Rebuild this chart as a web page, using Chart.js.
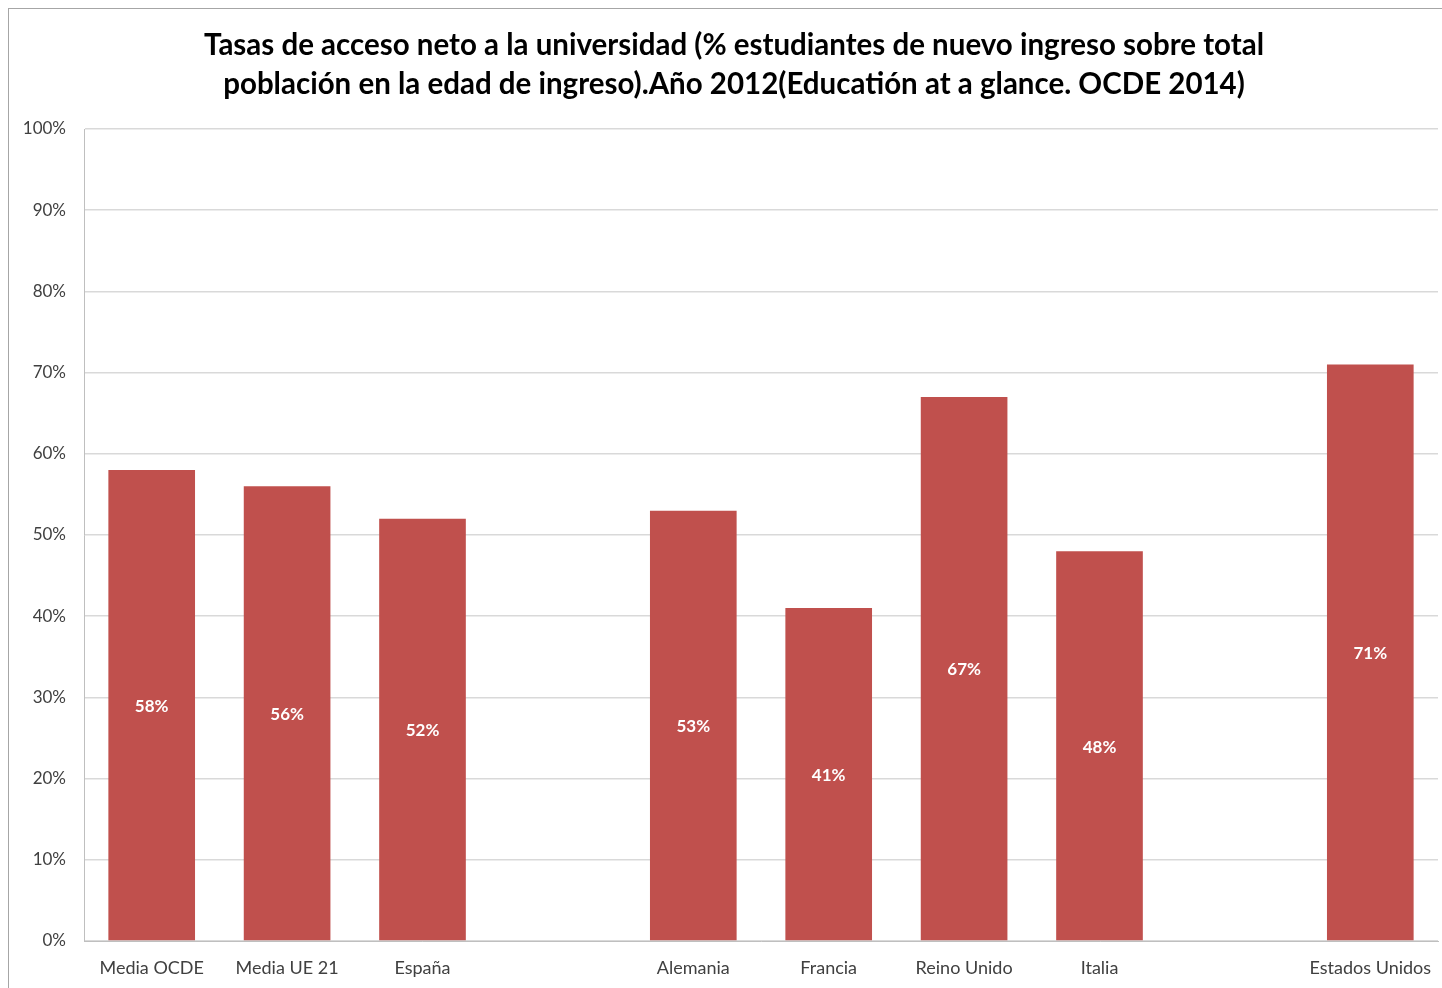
<!DOCTYPE html>
<html><head><meta charset="utf-8">
<script src="https://cdn.jsdelivr.net/npm/chart.js@4.4.1/dist/chart.umd.min.js"></script>
<style>
html,body{margin:0;padding:0;background:#fff;overflow:hidden}
#wrap{position:absolute;left:0;top:0;width:1442px;height:988px}
#frame{position:absolute;left:8px;top:8px;width:1460px;height:1000px;border:1px solid #a6a6a6;pointer-events:none}
</style></head>
<body>
<div id="wrap"><canvas id="c" width="1442" height="988"></canvas><div id="frame"></div></div>
<script>
const categories = ['Media OCDE','Media UE 21','España','','Alemania','Francia','Reino Unido','Italia','','Estados Unidos'];
const values = [58,56,52,null,53,41,67,48,null,71];
const yTicks = [0,10,20,30,40,50,60,70,80,90,100];
const titleLines = ['Tasas de acceso neto a la universidad (% estudiantes de nuevo ingreso sobre total','población en la edad de ingreso).Año 2012(Educatión at a glance. OCDE 2014)'];

const FONT = 'Lato, "Open Sans", sans-serif';

const titlePlugin = {
  id:'titleP',
  afterDraw(chart){
    const ctx = chart.ctx;
    ctx.save();
    ctx.fillStyle = '#000';
    ctx.font = 'bold 29.5px ' + FONT;
    ctx.textAlign = 'center';
    ctx.textBaseline = 'middle';
    ctx.fillText(titleLines[0], 734, 45);
    ctx.fillText(titleLines[1], 734, 84);
    ctx.restore();
  }
};
const labelPlugin = {
  id:'labelsP',
  afterDatasetsDraw(chart){
    const ctx = chart.ctx;
    const meta = chart.getDatasetMeta(0);
    const ys = chart.scales.y;
    ctx.save();
    ctx.fillStyle = '#fff';
    ctx.font = 'bold 17px ' + FONT;
    ctx.textAlign = 'center';
    ctx.textBaseline = 'middle';
    meta.data.forEach((bar,i)=>{
      const v = values[i];
      if (v === null) return;
      const yMid = (ys.getPixelForValue(v) + ys.getPixelForValue(0))/2;
      ctx.fillText(v + '%', bar.x, yMid + 1);
    });
    ctx.restore();
  }
};

new Chart(document.getElementById('c'), {
  type:'bar',
  data:{ labels:categories, datasets:[{ data:values, backgroundColor:'#C0504D', borderWidth:0, categoryPercentage:1, barPercentage:0.64 }]},
  options:{
    responsive:false, animation:false,
    layout:{ padding:{ top:129, left:0, right:4, bottom:0 } },
    plugins:{ legend:{display:false}, tooltip:{enabled:false}, title:{display:false} },
    scales:{
      x:{
        grid:{ display:false, drawTicks:false },
        border:{ display:true, color:'#bfbfbf', width:1 },
        ticks:{ color:'#404040', font:{ family:FONT, size:18 }, padding:16, maxRotation:0, autoSkip:false },
        afterFit(s){ s.height = 47; s.paddingLeft = 0; s.paddingRight = 0; }
      },
      y:{
        min:0, max:100,
        afterBuildTicks(s){ s.ticks = yTicks.map(v=>({value:v})); },
        grid:{ color:'#d9d9d9', lineWidth:1.5, drawTicks:false },
        border:{ display:true, color:'#bfbfbf', width:1 },
        ticks:{ color:'#404040', font:{ family:FONT, size:17 }, padding:18, callback:v=>v+'%' },
        afterFit(s){ s.width = 84; s.paddingTop = 0; s.paddingBottom = 0; }
      }
    }
  },
  plugins:[titlePlugin, labelPlugin]
});
</script>
</body></html>
